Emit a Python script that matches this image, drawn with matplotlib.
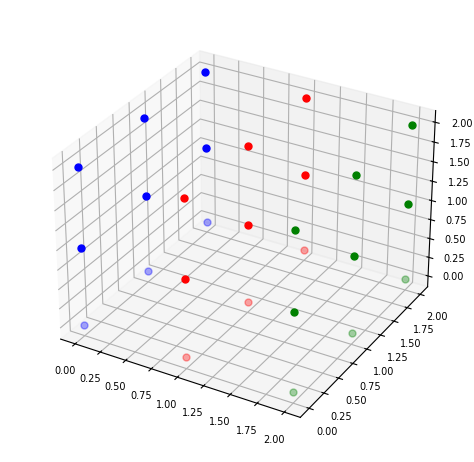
import numpy as np
import matplotlib.pyplot as plt

xs = [0, 1, 2]
ys = [0, 1, 2]
zs = [0, 1, 2]
colors = {0: "blue", 1: "red", 2: "green"}
alphas = {0: 0.35, 1: 1.0, 2: 1.0}

fig = plt.figure(figsize=(4.74, 4.62), dpi=100)
ax = fig.add_subplot(111, projection="3d")
for x in xs:
    for z in zs:
        ax.scatter([x] * len(ys), ys, [z] * len(ys), color=colors[x],
                   s=25, alpha=alphas[z], depthshade=False)

ticks = np.arange(0, 2.01, 0.25)
ax.set_xticks(ticks)
ax.set_yticks(ticks)
ax.set_zticks(ticks)
ax.tick_params(labelsize=7)
plt.subplots_adjust(left=0.06, right=0.96, bottom=0.02, top=0.98)
plt.savefig("out.png")
